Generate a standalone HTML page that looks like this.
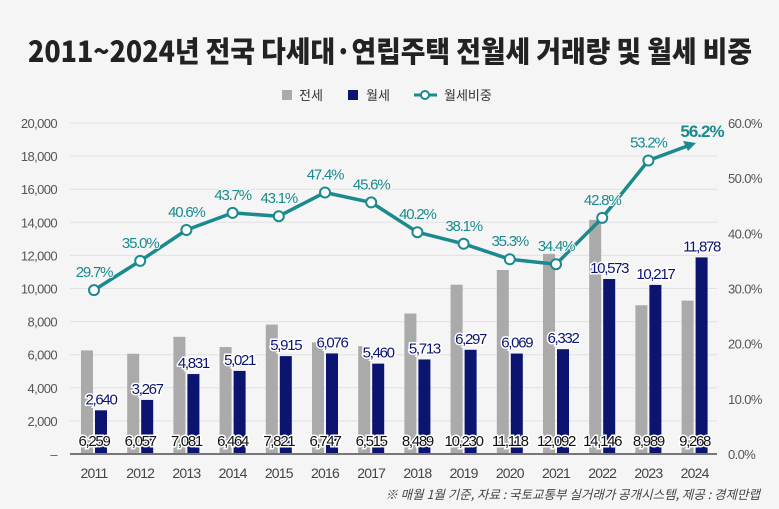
<!DOCTYPE html>
<html><head><meta charset="utf-8">
<style>
html,body{margin:0;padding:0;background:#f5f5f5;}
svg{display:block;font-family:"Liberation Sans","Noto Sans CJK KR",sans-serif;}
</style></head>
<body>
<svg id="c" width="779" height="509" viewBox="0 0 779 509" xmlns="http://www.w3.org/2000/svg">
<rect width="779" height="509" fill="#f5f5f5"/>
<text x="390" y="62" text-anchor="middle" font-size="29" font-weight="900" fill="#222" textLength="724" lengthAdjust="spacingAndGlyphs" font-family="'Noto Sans CJK KR','Liberation Sans',sans-serif">2011~2024년 전국 다세대·연립주택 전월세 거래량 및 월세 비중</text>
<rect x="282" y="90" width="10" height="10" fill="#aaaaaa"/>
<text x="299" y="100" font-size="13" fill="#333" font-family="'Noto Sans CJK KR',sans-serif">전세</text>
<rect x="348" y="90" width="10" height="10" fill="#0b1470"/>
<text x="366" y="100" font-size="13" fill="#333" font-family="'Noto Sans CJK KR',sans-serif">월세</text>
<line x1="414" y1="95" x2="437" y2="95" stroke="#1a8a8e" stroke-width="3"/>
<circle cx="425" cy="95" r="4" fill="#fff" stroke="#1a8a8e" stroke-width="2"/>
<text x="444" y="100" font-size="13" fill="#333" font-family="'Noto Sans CJK KR',sans-serif">월세비중</text>
<g id="g"></g>
<text x="760" y="499" text-anchor="end" font-size="12.5" font-style="italic" fill="#444" font-family="'Noto Sans CJK KR',sans-serif">※ 매월 1월 기준, 자료 : 국토교통부 실거래가 공개시스템, 제공 : 경제만랩</text>
</svg>
<script>
const g=document.getElementById('g');let s='';
const y0=454,k=331/20000;
for(let i=0;i<=10;i++){const v=i*2000,y=y0-v*k;
 if(i>0)s+=`<line x1="70" x2="717" y1="${y}" y2="${y}" stroke="#e2e2e2" stroke-width="1"/>`;
 s+=`<text x="57" y="${y+5}" text-anchor="end" font-size="13" fill="#555" letter-spacing="-0.6">${i==0?'–':v.toLocaleString('en-US')}</text>`;}
for(let i=0;i<=6;i++){const y=y0-i*10*5.517;s+=`<text x="728" y="${y+5}" font-size="13" fill="#555" letter-spacing="-0.6">${i*10}.0%</text>`;}
const J=[6259,6057,7081,6464,7821,6747,6515,8489,10230,11118,12092,14146,8989,9268];
const W=[2640,3267,4831,5021,5915,6076,5460,5713,6297,6069,6332,10573,10217,11878];
const P=[29.7,35.0,40.6,43.7,43.1,47.4,45.6,40.2,38.1,35.3,34.4,42.8,53.2,56.2];
const f=n=>n.toLocaleString('en-US');
let pts=[],lab='';
for(let i=0;i<14;i++){const c=94+46.2*i;
 s+=`<rect x="${c-13}" y="${y0-J[i]*k}" width="12" height="${J[i]*k}" fill="#aaaaaa"/>`;
 s+=`<rect x="${c+1}" y="${y0-W[i]*k}" width="12" height="${W[i]*k}" fill="#0b1470"/>`;
 lab+=`<text x="${c}" y="446" text-anchor="middle" font-size="15" fill="#111" stroke="#fff" stroke-width="3" paint-order="stroke" letter-spacing="-1.3">${f(J[i])}</text>`;
 lab+=`<text x="${c+7}" y="${y0-W[i]*k-6}" text-anchor="middle" font-size="15" fill="#0b1470" stroke="#fff" stroke-width="3" paint-order="stroke" letter-spacing="-1.3">${f(W[i])}</text>`;
 lab+=`<text x="${c}" y="478" text-anchor="middle" font-size="14" fill="#444" letter-spacing="-0.8">${2011+i}</text>`;
 pts.push([c,y0-P[i]*5.517]);}
s+=`<line x1="70" x2="717" y1="${y0}" y2="${y0}" stroke="#777" stroke-width="2"/>`;
s+=lab;
s+=`<polyline points="${pts.slice(0,13).map(p=>p.join(',')).join(' ')} 690,145" fill="none" stroke="#1a8a8e" stroke-width="3.5" stroke-linejoin="round"/>`;
s+=`<polygon points="696,143 683,141 688,151" fill="#1a8a8e"/>`;
for(let i=0;i<13;i++){const [x,y]=pts[i];
 s+=`<circle cx="${x}" cy="${y}" r="5" fill="#fff" stroke="#1a8a8e" stroke-width="2"/>`;
 s+=`<text x="${x}" y="${y-13}" text-anchor="middle" font-size="15" fill="#1a8a8e" stroke="#f5f5f5" stroke-width="2" paint-order="stroke" letter-spacing="-1.2">${P[i].toFixed(1)}%</text>`;}
s+=`<text x="702" y="137" text-anchor="middle" font-size="17" font-weight="bold" fill="#1a8a8e" letter-spacing="-1">56.2%</text>`;
g.innerHTML=s;
</script>
</body></html>
